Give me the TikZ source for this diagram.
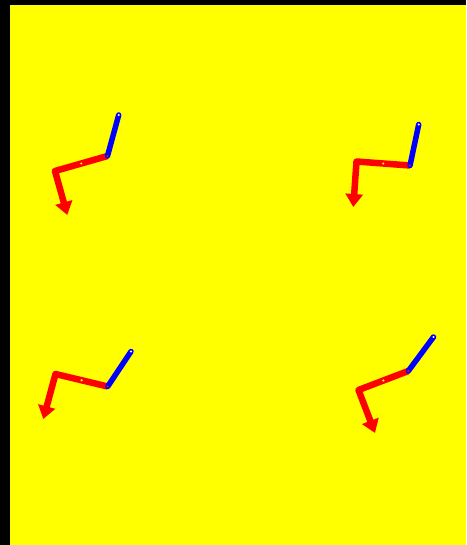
\documentclass[tikz,border=0pt]{standalone}
\usetikzlibrary{arrows.meta,calc}
\definecolor{bgyellow}{RGB}{255,255,0}
\begin{document}
\begin{tikzpicture}[x=1pt,y=-1pt,
  redarm/.style={draw=red,line width=6.5pt,line join=round,line cap=butt,-{Triangle[width=17pt,length=13pt]}},
  bluearm/.style={draw=blue,line width=5.5pt,line cap=round},
  topdot/.style={fill=white},
  middot/.style={fill=bgyellow},
  jointdot/.style={fill=red}]
\useasboundingbox (0,0) rectangle (466,545);
\fill[black] (0,0) rectangle (466,545);
\fill[bgyellow] (10,5) rectangle (466,545);
% shape 1
\coordinate (a1) at (118.7,115);
\coordinate (b1) at (107.5,156);
\coordinate (c1) at (55,171);
\coordinate (d1) at (67.3,215);
% shape 2
\coordinate (a2) at (418.7,124.5);
\coordinate (b2) at (410,165.5);
\coordinate (c2) at (356.5,161.5);
\coordinate (d2) at (353.3,207);
% shape 3
\coordinate (a3) at (131,351.5);
\coordinate (b3) at (107.7,386.5);
\coordinate (c3) at (55.5,374);
\coordinate (d3) at (43.3,419);
% shape 4
\coordinate (a4) at (433.5,337);
\coordinate (b4) at (408.3,371);
\coordinate (c4) at (358.5,390);
\coordinate (d4) at (375,433);
\foreach \i in {1,2,3,4}{
  \draw[redarm] (b\i) -- (c\i) -- (d\i);
  \draw[bluearm] (a\i) -- (b\i);
  \fill[topdot] (a\i) circle (1.2pt);
  \fill[jointdot] (b\i) circle (1.2pt);
  \fill[middot] ($(b\i)!0.5!(c\i)$) circle (1.2pt);
}
\end{tikzpicture}
\end{document}
